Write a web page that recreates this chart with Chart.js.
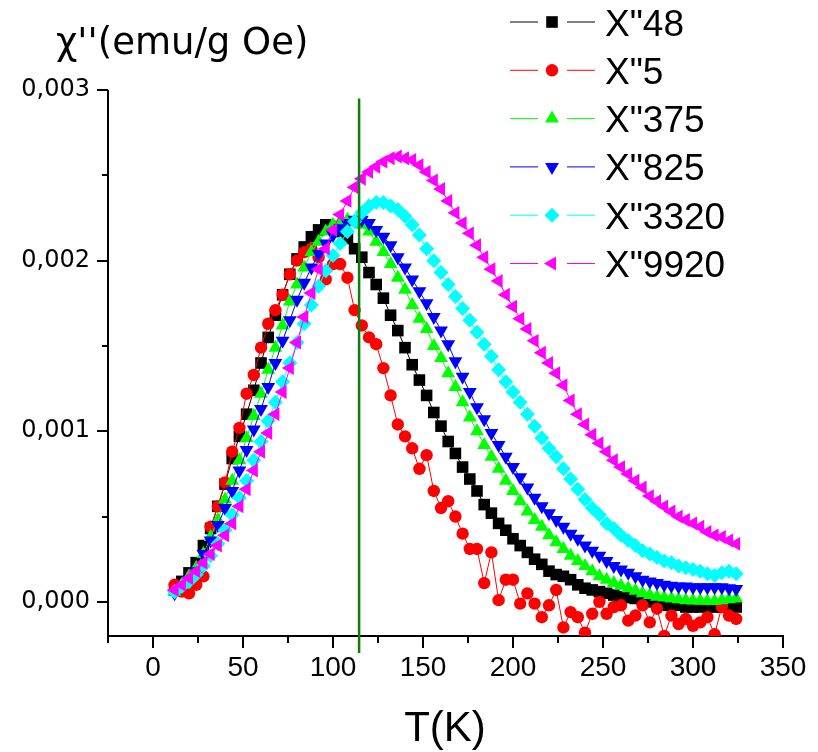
<!DOCTYPE html>
<html>
<head>
<meta charset="utf-8">
<title>chi'' vs T</title>
<script src="https://cdn.jsdelivr.net/npm/chart.js@4.4.1/dist/chart.umd.min.js"></script>
<style>
  html, body { margin: 0; padding: 0; background: #fff; }
  #wrap { width: 818px; height: 752px; }
</style>
</head>
<body>
<div id="wrap"><canvas id="chart" width="818" height="752"></canvas></div>
<script>
'use strict';

/* ── data ─────────────────────────────────────────
   temperatures in K, chi'' in 1e-3 emu/g Oe
─────────────────────────────────────────────────── */
const temps = [
  12, 16, 20, 24, 28, 32, 36, 40, 44, 48,
  52, 56, 60, 64, 68, 72, 76, 80, 84, 88,
  92, 96, 100, 104, 108, 112, 116, 120, 124, 128,
  132, 136, 140, 144, 148, 152, 156, 160, 164, 168,
  172, 176, 180, 184, 188, 192, 196, 200, 204, 208,
  212, 216, 220, 224, 228, 232, 236, 240, 244, 248,
  252, 256, 260, 264, 268, 272, 276, 280, 284, 288,
  292, 296, 300, 304, 308, 312, 316, 320, 324
];

const seriesLabels = ['X"48', 'X"5', 'X"375', 'X"825', 'X"3320', 'X"9920'];

const chi48 = [
  0.07, 0.12, 0.17, 0.23, 0.33, 0.43, 0.56, 0.69, 0.84, 0.97,
  1.10, 1.24, 1.40, 1.55, 1.68, 1.80, 1.92, 2.01, 2.08, 2.14,
  2.18, 2.21, 2.20, 2.17, 2.13, 2.07, 2.02, 1.93, 1.86, 1.78,
  1.68, 1.59, 1.49, 1.39, 1.30, 1.21, 1.11, 1.03, 0.94, 0.87,
  0.79, 0.72, 0.65, 0.57, 0.52, 0.46, 0.42, 0.37, 0.33, 0.29,
  0.25, 0.22, 0.18, 0.16, 0.15, 0.13, 0.10, 0.08, 0.07, 0.06,
  0.05, 0.04, 0.03, 0.025, 0.02, 0.01, 0.00, -0.01, -0.02, -0.02,
  -0.02, -0.03, -0.03, -0.03, -0.03, -0.03, -0.03, -0.025, -0.03
];

const chi5 = [
  0.10, 0.06, 0.05, 0.10, 0.15, 0.44, 0.56, 0.70, 0.88, 1.02,
  1.22, 1.33, 1.49, 1.63, 1.71, 1.80, 1.92, 2.00, 2.05, 2.07,
  2.02, 1.89, 1.98, 1.98, 1.90, 1.71, 1.62, 1.55, 1.51, 1.37,
  1.21, 1.04, 0.97, 0.90, 0.78, 0.86, 0.65, 0.55, 0.59, 0.50,
  0.40, 0.31, 0.31, 0.11, 0.29, 0.01, 0.13, 0.13, -0.01, 0.05,
  -0.01, -0.09, -0.02, 0.07, -0.15, -0.06, -0.09, -0.18, -0.07, 0.00,
  -0.07, -0.03, -0.02, -0.11, -0.08, -0.02, -0.12, -0.04, -0.20, -0.08,
  -0.13, -0.10, -0.14, -0.12, -0.09, -0.19, -0.03, -0.08, -0.10
];

const chi375 = [
  0.06, 0.10, 0.15, 0.20, 0.28, 0.38, 0.48, 0.60, 0.71, 0.83,
  0.96, 1.09, 1.22, 1.36, 1.49, 1.62, 1.76, 1.86, 1.96, 2.05,
  2.11, 2.17, 2.21, 2.23, 2.24, 2.23, 2.21, 2.17, 2.11, 2.05,
  1.98, 1.90, 1.83, 1.74, 1.66, 1.60, 1.50, 1.43, 1.34, 1.26,
  1.17, 1.08, 1.00, 0.92, 0.85, 0.78, 0.71, 0.65, 0.59, 0.53,
  0.48, 0.44, 0.39, 0.35, 0.31, 0.27, 0.24, 0.21, 0.18, 0.15,
  0.13, 0.11, 0.095, 0.08, 0.065, 0.05, 0.04, 0.03, 0.025, 0.02,
  0.015, 0.01, 0.008, 0.006, 0.005, 0.005, 0.01, 0.015, 0.02
];

const chi825 = [
  0.05, 0.09, 0.13, 0.18, 0.28, 0.36, 0.45, 0.55, 0.65, 0.77,
  0.89, 1.01, 1.13, 1.26, 1.40, 1.53, 1.65, 1.77, 1.87, 1.96,
  2.04, 2.10, 2.15, 2.19, 2.22, 2.24, 2.24, 2.22, 2.18, 2.14,
  2.09, 2.02, 1.96, 1.89, 1.82, 1.75, 1.67, 1.59, 1.51, 1.41,
  1.32, 1.23, 1.14, 1.07, 0.99, 0.92, 0.85, 0.79, 0.73, 0.67,
  0.61, 0.56, 0.52, 0.48, 0.44, 0.40, 0.37, 0.33, 0.30, 0.27,
  0.24, 0.21, 0.19, 0.17, 0.15, 0.13, 0.12, 0.11, 0.10, 0.095,
  0.09, 0.09, 0.085, 0.085, 0.085, 0.085, 0.085, 0.08, 0.075
];

const chi3320 = [
  0.06, 0.09, 0.12, 0.16, 0.21, 0.27, 0.34, 0.42, 0.51, 0.61,
  0.71, 0.83, 0.94, 1.06, 1.17, 1.29, 1.40, 1.52, 1.63, 1.74,
  1.85, 1.94, 2.03, 2.10, 2.17, 2.23, 2.28, 2.32, 2.34, 2.34,
  2.32, 2.30, 2.26, 2.21, 2.15, 2.07, 2.00, 1.93, 1.86, 1.79,
  1.72, 1.65, 1.58, 1.51, 1.44, 1.36, 1.29, 1.23, 1.17, 1.10,
  1.03, 0.96, 0.90, 0.85, 0.78, 0.72, 0.66, 0.60, 0.55, 0.51,
  0.46, 0.43, 0.39, 0.36, 0.33, 0.30, 0.28, 0.26, 0.24, 0.23,
  0.21, 0.20, 0.19, 0.18, 0.165, 0.155, 0.17, 0.18, 0.165
];

const chi9920 = [
  0.07, 0.10, 0.14, 0.18, 0.23, 0.28, 0.33, 0.39, 0.46, 0.56,
  0.66, 0.77, 0.88, 0.99, 1.10, 1.23, 1.37, 1.52, 1.67, 1.81,
  1.95, 2.07, 2.18, 2.27, 2.35, 2.43, 2.48, 2.52, 2.55, 2.58,
  2.60, 2.61, 2.60, 2.59, 2.56, 2.52, 2.47, 2.42, 2.35, 2.28,
  2.22, 2.16, 2.09, 2.02, 1.95, 1.88, 1.80, 1.73, 1.66, 1.60,
  1.53, 1.46, 1.40, 1.34, 1.27, 1.18, 1.10, 1.04, 0.98, 0.93,
  0.88, 0.83, 0.79, 0.75, 0.71, 0.67, 0.62, 0.59, 0.56, 0.53,
  0.50, 0.48, 0.46, 0.44, 0.41, 0.39, 0.38, 0.36, 0.34
];

// vertical marker at the transition temperature
const markerT = 114.5;
const markerSpan = [2.95, -0.30];

// axis ticks
const xMajor = [0, 50, 100, 150, 200, 250, 300, 350];
const xMinor = [-25, 25, 75, 125, 175, 225, 275, 325];
const yMajor = [0, 1, 2, 3];
const yMinor = [0.5, 1.5, 2.5];

/* ── styling ──────────────────────────────────── */
const FONT = '"Liberation Sans", Arial, Helvetica, sans-serif';
const WIDE_FONT = '"DejaVu Sans", Verdana, sans-serif';

const STYLES = [
  { color: '#000000', pointStyle: 'rect',     rotation: 0,   radius: 8.2 },
  { color: '#ff0000', pointStyle: 'circle',   rotation: 0,   radius: 6.2 },
  { color: '#00ff00', pointStyle: 'triangle', rotation: 0,   radius: 8 },
  { color: '#0000ff', pointStyle: 'triangle', rotation: 180, radius: 8 },
  { color: '#00ffff', pointStyle: 'rectRot',  rotation: 0,   radius: 7.5 },
  { color: '#ff00ff', pointStyle: 'triangle', rotation: -90, radius: 8 },
];

const seriesValues = [chi48, chi5, chi375, chi825, chi3320, chi9920];

function makeSeries(idx) {
  const s = STYLES[idx];
  return {
    label: seriesLabels[idx],
    data: temps.map((t, i) => ({ x: t, y: seriesValues[idx][i] })),
    borderColor: s.color,
    backgroundColor: s.color,
    borderWidth: 1,
    pointStyle: s.pointStyle,
    pointRotation: s.rotation,
    pointRadius: s.radius,
    pointBackgroundColor: s.color,
    pointBorderColor: s.color,
    pointBorderWidth: 0,
    tension: 0,
    order: 6 - idx,   // later series drawn on top
  };
}

/* ── axes, titles and legend drawn Origin-style ── */
const originPlugin = {
  id: 'originFrame',
  beforeDatasetsDraw(chart) {
    const { ctx, chartArea: a, scales: { x, y } } = chart;
    ctx.save();
    ctx.strokeStyle = '#000';
    ctx.lineWidth = 2;
    ctx.beginPath();
    ctx.moveTo(a.left, a.top);
    ctx.lineTo(a.left, a.bottom);
    ctx.lineTo(a.right + 1, a.bottom);
    ctx.stroke();

    const tick = (x1, y1, x2, y2) => { ctx.beginPath(); ctx.moveTo(x1, y1); ctx.lineTo(x2, y2); ctx.stroke(); };
    xMajor.forEach(v => { const px = Math.round(x.getPixelForValue(v)); tick(px, a.bottom, px, a.bottom + 12); });
    xMinor.forEach(v => { const px = Math.round(x.getPixelForValue(v)); tick(px, a.bottom, px, a.bottom + 7); });
    yMajor.forEach(v => { const py = Math.round(y.getPixelForValue(v)); tick(a.left, py, a.left - 11, py); });
    yMinor.forEach(v => { const py = Math.round(y.getPixelForValue(v)); tick(a.left, py, a.left - 6, py); });
    ctx.restore();
  },
  afterDraw(chart) {
    const { ctx } = chart;
    ctx.save();
    ctx.fillStyle = '#000';
    ctx.textBaseline = 'alphabetic';

    // axis titles
    ctx.font = '37px ' + WIDE_FONT;
    ctx.textAlign = 'left';
    ctx.fillText("\u03C7''(emu/g Oe)", 56, 54);
    ctx.font = '42px ' + FONT;
    ctx.textAlign = 'center';
    ctx.fillText('T(K)', 445, 741);

    // legend: line - marker - line, label
    ctx.textAlign = 'left';
    ctx.font = '37px ' + FONT;
    seriesLabels.forEach((label, i) => {
      const s = STYLES[i];
      const rowY = 22 + i * 48.3;
      ctx.strokeStyle = s.color;
      ctx.fillStyle = s.color;
      ctx.lineWidth = 1;
      ctx.beginPath();
      ctx.moveTo(510, rowY); ctx.lineTo(538, rowY);
      ctx.moveTo(567, rowY); ctx.lineTo(595, rowY);
      ctx.stroke();
      Chart.helpers.drawPoint(ctx, {
        pointStyle: s.pointStyle, rotation: s.rotation, radius: s.radius, borderWidth: 0,
      }, 552, rowY);
      ctx.fillStyle = '#000';
      ctx.fillText(label, 605, rowY + 13.5);
    });
    ctx.restore();
  },
};

Chart.defaults.font.family = FONT;
Chart.defaults.color = '#000';

const datasets = seriesValues.map((_, i) => makeSeries(i));
datasets.push({
  label: 'Tmark',
  data: [{ x: markerT, y: markerSpan[0] }, { x: markerT, y: markerSpan[1] }],
  borderColor: '#0a7f0a',
  borderWidth: 2.5,
  pointRadius: 0,
  clip: false,
  order: 0,
});

new Chart(document.getElementById('chart').getContext('2d'), {
  type: 'line',
  data: { datasets },
  options: {
    responsive: false,
    animation: false,
    devicePixelRatio: 1,
    layout: { padding: { top: 90, right: 35, left: 0, bottom: 0 } },
    plugins: { legend: { display: false }, tooltip: { enabled: false } },
    scales: {
      x: {
        type: 'linear',
        min: -25,
        max: 350,
        afterFit(scale) { scale.height = 116; },
        afterBuildTicks(scale) { scale.ticks = xMajor.map(v => ({ value: v })); },
        grid: { display: true, drawOnChartArea: false, drawTicks: true, tickLength: 11, color: 'rgba(0,0,0,0)' },
        border: { display: false },
        ticks: { autoSkip: false, maxRotation: 0, padding: 4, font: { size: 28, family: FONT }, color: '#000' },
      },
      y: {
        type: 'linear',
        min: -0.2,
        max: 3,
        afterFit(scale) { scale.width = 108; },
        afterBuildTicks(scale) { scale.ticks = yMajor.map(v => ({ value: v })); },
        grid: { display: true, drawOnChartArea: false, drawTicks: true, tickLength: 11, color: 'rgba(0,0,0,0)' },
        border: { display: false },
        ticks: {
          padding: 7,
          font: { size: 24, family: WIDE_FONT },
          color: '#000',
          callback: v => (v / 1000).toFixed(3).replace('.', ','),
        },
      },
    },
  },
  plugins: [originPlugin],
});
</script>
</body>
</html>
